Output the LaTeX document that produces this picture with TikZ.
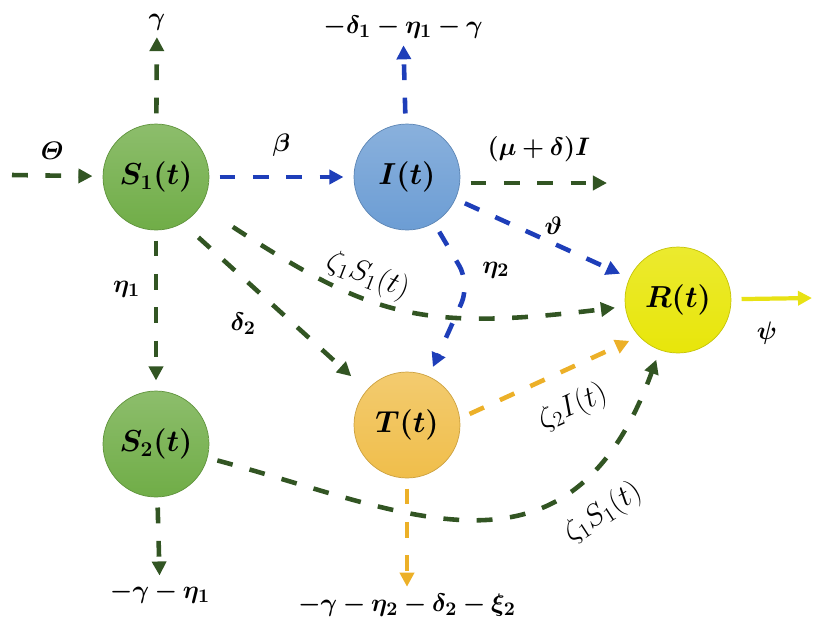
\documentclass[tikz,border=0pt]{standalone}
\usepackage{amssymb}
\usepackage{mathtools}
\usepackage{bm}
\usepackage{tikz}
\usetikzlibrary{arrows.meta}

\definecolor{sgreen}{RGB}{112,173,71}
\definecolor{iblue}{RGB}{108,157,212}
\definecolor{torange}{RGB}{240,190,75}
\definecolor{ryellow}{RGB}{232,230,10}
\definecolor{gline}{RGB}{50,85,35}
\definecolor{bline}{RGB}{30,62,185}
\definecolor{oline}{RGB}{236,176,40}
\definecolor{yline}{RGB}{232,226,20}

\begin{document}
\begin{tikzpicture}[x=0.02cm, y=-0.02cm,
  comp/.style = {shape=circle, minimum size=2.12cm, inner sep=0pt,
    outer sep=6pt, font=\fontsize{18.5}{22}\selectfont},
  gcomp/.style = {comp, top color=sgreen!80!white, bottom color=sgreen,
    draw=sgreen!85!black},
  lab/.style = {inner sep=2pt, outer sep=2pt, text=black,
    font=\fontsize{15}{18}\selectfont},
  rate/.style = {inner sep=2pt, text=black, font=\LARGE},
  flow/.style = {line width=2.6pt, dash pattern=on 9pt off 10pt,
    -{Triangle[length=8pt, width=8pt]}}]
  \useasboundingbox (0,0) rectangle (816,627);

  \node[gcomp] (S1) at (156,177) {$\bm{S_1(t)}$};
  \node[gcomp] (S2) at (156,444) {$\bm{S_2(t)}$};
  \node[comp, top color=iblue!80!white, bottom color=iblue,
    draw=iblue!85!black] (I) at (407,177) {$\bm{I(t)}$};
  \node[comp, top color=torange!80!white, bottom color=torange,
    draw=torange!85!black] (T) at (407,425) {$\bm{T(t)}$};
  \node[comp, top color=ryellow!85!white, bottom color=ryellow,
    draw=ryellow!85!black] (R) at (678,300) {$\bm{R(t)}$};

  \node[lab] (gam) at (157,22) {$\bm{\gamma}$};
  \node[lab] (Iout) at (403,27) {$\bm{-\delta_1-\eta_1-\gamma}$};
  \node[lab] (S2out) at (160,593) {$\bm{-\gamma-\eta_1}$};
  \node[lab] (Tout) at (407,605) {$\bm{-\gamma-\eta_2-\delta_2-\xi_2}$};
  \node[rate, rotate=33] (zetaB) at (603,513) {$\zeta_1S_1(t)$};
  \coordinate (src) at (12,175);
  \coordinate (muE) at (607,183);
  \coordinate (psiE) at (812,298);
  \coordinate (kink) at (470,284);

  \draw[flow, gline] (src) -- (S1)
    node[midway, above=5pt, lab] {$\bm{\varTheta}$};
  \draw[flow, gline] (S1) -- (gam);
  \draw[flow, bline] (S1) -- (I)
    node[midway, above=8pt, lab] {$\bm{\beta}$};
  \draw[flow, bline] (I) -- (Iout);
  \draw[flow, gline] (I.east |- muE) -- (muE)
    node[midway, above=8pt, lab] {$\bm{(\mu+\delta)I}$};
  \draw[flow, bline] (I) -- (R)
    node[pos=0.57, above=1pt, lab] {$\bm{\vartheta}$};
  \draw[flow, bline, rounded corners=12pt] (I) -- (kink)
    node[right, xshift=3pt, yshift=8pt, lab] {$\bm{\eta_2}$} -- (T);
  \draw[flow, gline, shorten <=16pt] (S1) to[out=-33, in=187, looseness=1.2]
    node[pos=0.38, sloped, above, rate] {$\zeta_1S_1(t)$} (R);
  \draw[flow, gline, shorten <=6pt, shorten >=6pt] (S1.-57) -- (T.139)
    node[pos=0.46, below left=3pt, lab] {$\bm{\delta_2}$};
  \draw[flow, gline] (S1) -- (S2)
    node[pos=0.35, left=5pt, lab] {$\bm{\eta_1}$};
  \draw[flow, gline] (S2) -- (S2out);
  \draw[flow, oline] (T) -- (Tout);
  \draw[flow, oline] (T.10) -- (R.220)
    node[pos=0.55, sloped, below=9pt, rate] {$\zeta_2I(t)$};
  \draw[flow, gline] (S2) to[out=-15, in=-110, out looseness=1.1,
    in looseness=1.45] (R);
  \draw[yline, line width=2.4pt, -{Triangle[length=8pt, width=8pt]}]
    (R) -- (psiE) node[pos=0.36, below=9pt, lab] {$\bm{\psi}$};
\end{tikzpicture}
\end{document}
